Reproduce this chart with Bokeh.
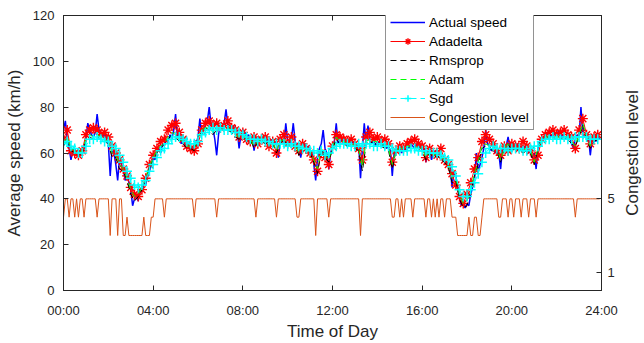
import numpy as np
from bokeh.plotting import figure
from bokeh.layouts import row
from bokeh.models import Range1d, LinearAxis, Legend, LegendItem, FixedTicker
from bokeh.core.properties import value
from bokeh.embed import file_html
from bokeh.resources import INLINE

# ---- data -------------------------------------------------------------
tick_minutes = [0, 240, 480, 720, 960, 1200, 1440]
tick_labels = ["00:00", "04:00", "08:00", "12:00", "16:00", "20:00", "24:00"]
congestion_ticks = [1, 5]
right_title = "Congestion level"

# actual speed, one value every 5 minutes (km/h)
actual_speed = [
    70, 74, 66, 62, 57, 61, 62, 60, 59, 61, 60, 62,
    66, 73, 70, 68, 67, 69, 77, 70,
    69, 67, 70, 66, 64, 50, 62, 60, 55, 48, 58, 55, 53, 48, 52, 47,
    44, 37, 40, 42, 39, 44, 43, 47, 46, 50, 52, 55,
    58, 57, 61, 62, 60, 64, 63, 66, 65, 68, 66,
    70, 77, 67, 69, 64, 66, 63, 62, 64, 61, 62, 63, 64,
    67, 75, 68, 70, 72, 74, 80, 72, 71, 66, 59, 68, 72, 71, 73, 79, 72, 70, 71, 72, 69, 70, 62, 68,
    70, 69, 67, 68, 66, 67, 61, 66, 67,
    66, 65, 67, 64, 66, 65, 66, 64, 65,
    64, 58, 65, 66, 64, 73, 65, 64, 66, 73, 65, 63, 62, 58, 63, 64, 62, 63, 61, 60, 55, 48, 58, 62, 64, 70, 62, 60, 53, 60,
    63, 65, 73, 64, 65, 66, 64, 65, 63, 66, 64, 65, 63, 62, 64, 49, 62, 73, 64, 72, 65, 64, 66, 63, 65, 64, 66, 63, 64, 62, 63, 61,
    50, 60, 62, 61, 63, 60, 62, 61, 63, 62, 64, 63, 62, 64, 62, 63, 61, 62, 56, 61, 62, 57, 60, 61, 58, 60, 59, 57, 58, 55, 56, 54,
    45, 52, 50, 45, 40, 37, 38, 36, 38, 37, 42, 45, 48, 60, 52, 55, 58, 62, 70, 64, 63, 61, 62, 60, 61, 60, 53, 62,
    61, 63, 67, 62, 61, 63, 62, 64, 62, 63, 61, 63, 62, 60, 61, 58, 60, 53, 62, 65,
    67, 66, 68, 67, 66, 68, 67, 69, 67, 70, 66, 68, 67, 66, 68, 67, 64, 62, 66, 68, 67, 80, 68, 67, 68, 67, 59, 66, 67, 65, 68, 66,
]

# model predictions, one value every 10 minutes (km/h)
adadelta = [
    66, 70, 61, 60, 59, 61, 68, 70, 71, 70, 68, 69,
    67, 63, 60, 57, 53, 50, 45, 42, 41, 44, 49, 55,
    59, 62, 65, 66, 70, 72, 73, 69, 66, 63, 62, 61,
    64, 70, 73, 74, 72, 73, 71, 72, 74, 71, 70, 67,
    69, 66, 65, 67, 64, 66, 67, 63, 65, 60, 66, 68,
    64, 67, 63, 61, 64, 62, 60, 57, 52, 60, 58, 55,
    63, 68, 67, 66, 65, 66, 64, 62, 57, 67, 69, 66,
    67, 65, 66, 64, 56, 61, 63, 62, 64, 65, 66, 64,
    63, 58, 62, 60, 59, 62, 57, 55, 51, 46, 41, 38,
    42, 47, 53, 58, 65, 68, 66, 64, 61, 59, 63, 61,
    64, 63, 62, 65, 63, 61, 57, 59, 66, 68, 69, 70,
    68, 69, 70, 68, 67, 62, 70, 75, 68, 64, 67, 68,
]
rmsprop = [
    63, 66, 61, 60, 59, 60, 65, 67, 66, 67, 66, 65,
    64, 58, 58, 53, 52, 48, 42, 39, 41, 44, 48, 54,
    57, 60, 62, 64, 66, 68, 67, 65, 64, 62, 62, 61,
    67, 69, 71, 70, 68, 70, 71, 71, 70, 69, 67, 66,
    67, 66, 66, 62, 65, 65, 64, 65, 64, 60, 64, 66,
    63, 64, 63, 59, 62, 62, 60, 56, 51, 62, 58, 56,
    62, 66, 64, 64, 63, 63, 62, 61, 52, 64, 65, 64,
    64, 63, 62, 61, 53, 61, 61, 61, 62, 62, 62, 61,
    61, 57, 60, 58, 59, 57, 56, 54, 47, 48, 40, 36,
    37, 43, 50, 55, 62, 63, 62, 61, 61, 56, 62, 64,
    61, 62, 61, 60, 61, 60, 55, 62, 66, 66, 66, 67,
    66, 66, 67, 66, 64, 63, 67, 72, 66, 62, 65, 66,
]
adam = [
    64, 67, 62, 61, 60, 61, 66, 68, 67, 68, 67, 66,
    65, 60, 59, 55, 53, 49, 44, 41, 42, 45, 49, 54,
    58, 61, 63, 64, 67, 69, 68, 66, 65, 63, 63, 62,
    67, 70, 71, 71, 69, 71, 71, 71, 71, 70, 68, 67,
    68, 66, 66, 63, 65, 66, 65, 65, 65, 61, 65, 66,
    64, 64, 64, 60, 63, 62, 61, 57, 53, 62, 59, 57,
    63, 67, 65, 65, 64, 64, 63, 62, 54, 65, 66, 65,
    65, 64, 63, 62, 55, 61, 62, 62, 63, 63, 63, 62,
    62, 58, 61, 59, 60, 58, 57, 55, 49, 49, 42, 38,
    39, 44, 51, 56, 63, 64, 63, 62, 62, 57, 62, 64,
    62, 62, 62, 61, 62, 61, 56, 62, 66, 67, 67, 67,
    67, 67, 67, 67, 65, 63, 68, 73, 67, 63, 66, 66,
]
sgd = [
    64, 65, 63, 62, 60, 60, 63, 66, 66, 67, 66, 65,
    65, 63, 62, 59, 56, 52, 49, 46, 45, 46, 48, 52,
    55, 58, 61, 62, 64, 66, 67, 67, 66, 65, 64, 64,
    65, 68, 69, 70, 71, 70, 71, 70, 70, 70, 69, 69,
    68, 67, 66, 66, 65, 66, 65, 65, 64, 64, 64, 64,
    63, 64, 63, 63, 62, 62, 61, 61, 60, 61, 59, 60,
    62, 63, 64, 64, 64, 63, 63, 64, 63, 64, 64, 63,
    63, 64, 63, 63, 62, 61, 61, 61, 61, 62, 62, 61,
    61, 61, 60, 60, 60, 59, 58, 57, 54, 50, 44, 41,
    41, 44, 47, 51, 56, 60, 62, 63, 62, 62, 62, 61,
    62, 62, 62, 61, 61, 62, 63, 63, 65, 66, 66, 67,
    66, 66, 67, 66, 66, 67, 67, 67, 67, 66, 66, 66,
]

# congestion level, one value every 5 minutes
congestion_level = [
    4, 5, 5, 4, 5, 5, 4, 5, 4, 5, 5, 4, 5, 5, 5, 5, 5, 5, 4, 5, 5, 5, 5, 5,
    5, 3, 5, 5, 5, 3, 5, 5, 3, 3, 4, 3, 3, 3, 3, 3, 3, 3, 3, 4, 3, 3, 3, 4,
    4, 5, 5, 5, 5, 5, 4, 5, 5, 5, 5, 5, 5, 5, 5, 5, 5, 5, 5, 5, 5, 5, 4, 5,
    5, 5, 5, 5, 5, 5, 5, 5, 5, 5, 4, 5, 5, 5, 5, 5, 5, 5, 5, 5, 5, 5, 5, 5,
    5, 5, 5, 5, 5, 5, 5, 4, 5, 5, 5, 5, 5, 5, 5, 5, 5, 5, 4, 5, 5, 5, 5, 5,
    5, 5, 5, 5, 5, 4, 4, 5, 5, 5, 5, 5, 5, 5, 5, 3, 5, 5, 5, 5, 5, 5, 4, 5,
    5, 5, 5, 5, 5, 5, 5, 5, 5, 5, 5, 5, 5, 5, 5, 3, 5, 5, 5, 5, 5, 5, 5, 5,
    5, 5, 5, 5, 5, 5, 5, 5, 4, 4, 5, 5, 4, 5, 4, 5, 5, 5, 5, 4, 5, 5, 5, 5,
    5, 5, 4, 5, 5, 4, 5, 4, 5, 4, 5, 5, 4, 5, 5, 5, 4, 4, 4, 3, 3, 3, 3, 3,
    3, 4, 3, 3, 4, 4, 3, 3, 4, 5, 5, 5, 5, 5, 5, 5, 5, 4, 4, 5, 5, 5, 4, 5,
    5, 4, 5, 5, 5, 4, 5, 5, 5, 4, 5, 5, 5, 4, 5, 5, 5, 5, 5, 5, 5, 5, 5, 5,
    5, 5, 5, 5, 5, 5, 5, 5, 5, 5, 4, 5, 5, 5, 5, 5, 5, 5, 5, 5, 5, 5, 5, 5,
]

# ---- figure -----------------------------------------------------------
FONT = "Liberation Sans"
AX = "#262626"

x_fine = np.arange(len(actual_speed)) * 5
x_cong = np.arange(len(congestion_level)) * 5

def xs(series):
    return np.arange(len(series)) * 10

p = figure(width=624, height=343, output_backend="svg", toolbar_location=None,
           x_range=Range1d(0, 1440), y_range=Range1d(0, 120),
           min_border_left=63, min_border_right=23, min_border_top=15,
           min_border_bottom=49, background_fill_color="white",
           border_fill_color="white")
p.extra_y_ranges = {"cong": Range1d(0, 15)}
p.outline_line_color = AX
p.outline_line_width = 1
p.xgrid.visible = False
p.ygrid.visible = False

def style_axis(ax, label_size="13px"):
    ax.axis_line_color = AX
    ax.major_tick_line_color = AX
    ax.major_tick_in = 5
    ax.major_tick_out = 0
    ax.minor_tick_line_color = None
    ax.major_label_text_font = FONT
    ax.major_label_text_font_size = label_size
    ax.major_label_text_color = AX
    ax.axis_label_text_font = FONT
    ax.axis_label_text_font_size = "17px"
    ax.axis_label_text_font_style = "normal"
    ax.axis_label_text_color = AX

xa = p.xaxis[0]
style_axis(xa)
xa.ticker = FixedTicker(ticks=tick_minutes)
xa.major_label_overrides = {t: l for t, l in zip(tick_minutes, tick_labels)}
xa.axis_label = "Time of Day"
xa.major_label_standoff = 12
xa.axis_label_standoff = 1

ya = p.yaxis[0]
style_axis(ya)
ya.ticker = FixedTicker(ticks=[0, 20, 40, 60, 80, 100, 120])
ya.axis_label = "Average speed (km/h)"
ya.major_label_standoff = 9
ya.axis_label_standoff = 6

top = LinearAxis(ticker=FixedTicker(ticks=tick_minutes))
style_axis(top)
top.major_label_text_font_size = "1px"
top.major_label_text_color = None
top.major_label_standoff = 0
p.add_layout(top, "above")

right = LinearAxis(y_range_name="cong", ticker=FixedTicker(ticks=congestion_ticks))
style_axis(right)
right.major_label_standoff = 6
p.add_layout(right, "right")

# ---- series -----------------------------------------------------------
r_act = p.line(x_fine, actual_speed, line_color="#0000FF", line_width=1.5)

r_ada_l = p.line(xs(adadelta), adadelta, line_color="#FF0000", line_width=1)
r_ada_m = p.scatter(xs(adadelta), adadelta, marker="asterisk", size=10,
                    line_color="#FF0000", line_width=1.4)

r_rms = p.line(xs(rmsprop), rmsprop, line_color="#000000", line_width=1,
               line_dash="6 4")
r_adam = p.line(xs(adam), adam, line_color="#00FF00", line_width=1,
                line_dash="6 4")

r_sgd_l = p.line(xs(sgd), sgd, line_color="#00FFFF", line_width=1, line_dash="6 4")
r_sgd_m = p.scatter(xs(sgd), sgd, marker="cross", size=10,
                    line_color="#00FFFF", line_width=1.5)

r_cong = p.line(x_cong, congestion_level, y_range_name="cong",
                line_color="#D95319", line_width=1)

legend = Legend(items=[
    LegendItem(label="Actual speed", renderers=[r_act]),
    LegendItem(label="Adadelta", renderers=[r_ada_l, r_ada_m]),
    LegendItem(label="Rmsprop", renderers=[r_rms]),
    LegendItem(label="Adam", renderers=[r_adam]),
    LegendItem(label="Sgd", renderers=[r_sgd_l, r_sgd_m]),
    LegendItem(label="Congestion level", renderers=[r_cong]),
], location=(322, 160))
legend.margin = 0
legend.padding = 4
legend.spacing = 3
legend.glyph_width = 35
legend.glyph_height = 16
legend.label_height = 16
legend.label_standoff = 4
legend.label_text_font = FONT
legend.label_text_font_size = "13.5px"
legend.label_text_color = "#000000"
legend.border_line_color = AX
legend.border_line_width = 1
legend.background_fill_color = "white"
legend.background_fill_alpha = 1.0
p.add_layout(legend, "center")

# ---- narrow strip holding the right-hand axis title (bottom-to-top) ----
p2 = figure(width=20, height=343, output_backend="svg", toolbar_location=None,
            x_range=Range1d(0, 1), y_range=Range1d(0, 120),
            x_axis_type=None, y_axis_type=None,
            min_border_left=0, min_border_right=0, min_border_top=15,
            min_border_bottom=49, background_fill_color="white",
            border_fill_color="white")
p2.outline_line_color = None
p2.xgrid.visible = False
p2.ygrid.visible = False
p2.text(x=[0.4], y=[60], text=[right_title], angle=np.pi / 2,
        text_align="center", text_baseline="middle",
        text_font=value(FONT), text_font_size=value("17px"), text_color=AX)

layout = row(p, p2, spacing=0)
open("out.html", "w").write(file_html(layout, INLINE))
